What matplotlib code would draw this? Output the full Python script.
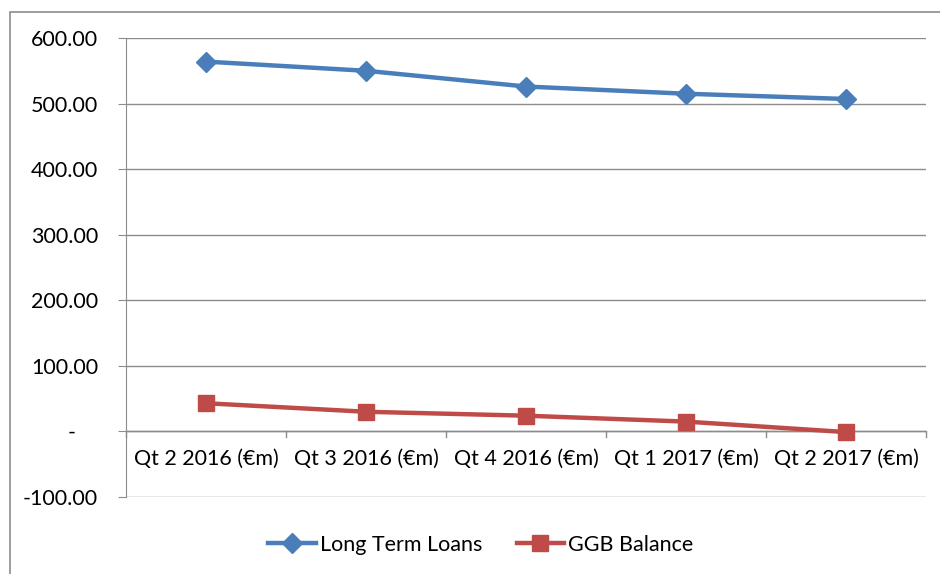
import matplotlib
matplotlib.use("Agg")
import matplotlib.pyplot as plt
from matplotlib.patches import Rectangle
from matplotlib.ticker import FuncFormatter, MultipleLocator
from matplotlib.transforms import offset_copy

categories = ["Qt 2 2016 (€m)", "Qt 3 2016 (€m)", "Qt 4 2016 (€m)", "Qt 1 2017 (€m)", "Qt 2 2017 (€m)"]
long_term_loans = [564, 550, 526, 515, 507]
ggb_balance = [43, 30, 24, 15, -1]

plt.rcParams['font.family'] = ['Lato', 'DejaVu Sans']
FS = 15.5

fig = plt.figure(figsize=(9.4, 5.74), dpi=100)
ax = fig.add_axes([126/940, 1-497/574, 800/940, (497-38)/574])

x = list(range(len(categories)))
ax.plot(x, long_term_loans, color="#4A7EBB", lw=3.2, marker="D", ms=10, label="Long Term Loans", zorder=3)
ax.plot(x, ggb_balance, color="#BE4B48", lw=3.2, marker="s", ms=11, label="GGB Balance", zorder=3)

ax.set_xlim(-0.5, len(categories)-0.5)
ax.set_ylim(-100, 600)
ax.yaxis.set_major_locator(MultipleLocator(100))
ax.yaxis.set_major_formatter(FuncFormatter(lambda v, p: "-\u00a0\u00a0\u00a0\u00a0" if abs(v) < 1e-9 else f"{v:.2f}"))
ax.grid(axis="y", color="#8c8c8c", lw=1)
ax.set_axisbelow(True)
for s in ["top", "right", "bottom"]:
    ax.spines[s].set_visible(False)
ax.spines["left"].set_color("#8c8c8c")
ax.tick_params(axis="y", length=6, color="#8c8c8c", labelsize=FS, pad=14)

ax.set_xticks(x)
ax.set_xticklabels([])
ax.tick_params(axis="x", length=0)
tr = offset_copy(ax.transData, fig=fig, x=0, y=-20, units="points")
for i, c in enumerate(categories):
    ax.text(i, 0, c, transform=tr, ha="center", va="center", fontsize=FS)
# category boundary ticks on the zero line
ax.axhline(0, color="#8c8c8c", lw=1, zorder=1)
for b in [i - 0.5 for i in range(len(categories)+1)]:
    ax.plot([b, b], [0, -9], color="#8c8c8c", lw=1, clip_on=False, zorder=1)

leg = ax.legend(loc="center", bbox_to_anchor=(481/940, 1-545/574), bbox_transform=fig.transFigure,
                ncol=2, frameon=False, fontsize=FS, handlelength=2.2, columnspacing=1.6, handletextpad=0.2)

fig.patches.append(Rectangle((10/940, -0.05), 1.2, 1-12/574+0.05, transform=fig.transFigure,
                             fill=False, edgecolor="#8c8c8c", lw=1.2))

fig.savefig("out.png", dpi=100)
